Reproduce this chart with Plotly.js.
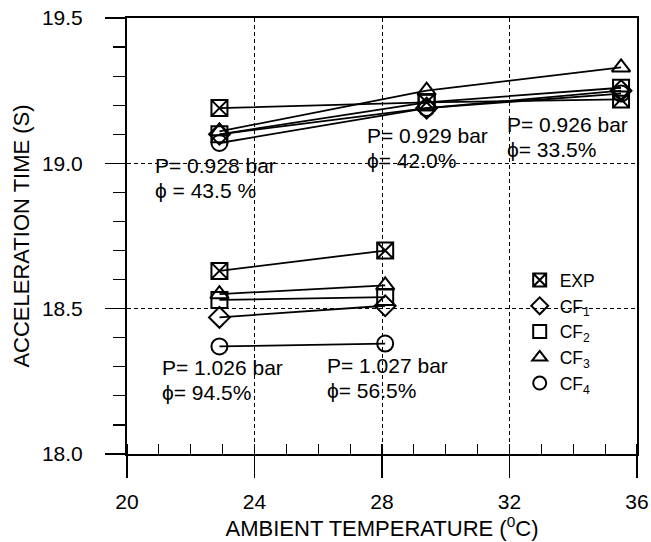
<!DOCTYPE html>
<html>
<head>
<meta charset="utf-8">
<script src="https://cdn.plot.ly/plotly-3.0.1.min.js"></script>
<style>html,body{margin:0;padding:0;background:#fff}#chart{width:651px;height:542px}</style>
</head>
<body>
<div id="chart"></div>
<script>
// Ambient temperature (°C) for the two groups of tests
const tempLow = [22.9, 29.4, 35.5];   // reduced-pressure group (P ~ 0.93 bar)
const tempHigh = [22.9, 28.1];        // sea-level group (P ~ 1.03 bar)

// Acceleration time (s)
const expLow  = [19.19, 19.21, 19.22];
const cf1Low  = [19.10, 19.19, 19.25];
const cf2Low  = [19.10, 19.21, 19.26];
const cf3Low  = [19.11, 19.25, 19.33];
const cf4Low  = [19.07, 19.19, 19.24];

const expHigh = [18.63, 18.70];
const cf1High = [18.47, 18.51];
const cf2High = [18.53, 18.54];
const cf3High = [18.55, 18.58];
const cf4High = [18.37, 18.38];

const seriesNames = ["EXP", "CF<sub>1</sub>", "CF<sub>2</sub>", "CF<sub>3</sub>", "CF<sub>4</sub>"];
const seriesSymbols = ["square-x-open", "diamond-open", "square-open", "triangle-up-open", "circle-open"];
const lowSets = [expLow, cf1Low, cf2Low, cf3Low, cf4Low];
const highSets = [expHigh, cf1High, cf2High, cf3High, cf4High];

// Annotation labels
const labelTexts = ["P= 0.928 bar", "\u03d5 = 43.5 %", "P= 0.929 bar", "\u03d5= 42.0%", "P= 0.926 bar", "\u03d5= 33.5%",
                    "P= 1.026 bar", "\u03d5= 94.5%", "P= 1.027 bar", "\u03d5= 56.5%"];
const labelX = [20.82, 20.82, 27.47, 27.47, 31.86, 31.86, 21.04, 21.04, 26.21, 26.21];
const labelY = [18.994, 18.905, 19.097, 19.011, 19.132, 19.046, 18.298, 18.213, 18.306, 18.220];

const FONT = "Liberation Sans, Arial, sans-serif";
const traces = [];
seriesNames.forEach((name, i) => {
  const xs = tempLow.concat([null], tempHigh);
  const ys = lowSets[i].concat([null], highSets[i]);
  traces.push({
    x: xs, y: ys, mode: "lines+markers", type: "scatter", showlegend: false,
    connectgaps: false, line: {color: "black", width: 1.8}, hoverinfo: "skip",
    marker: {symbol: seriesSymbols[i], size: 16, color: "black", line: {color: "black", width: 2}}
  });
});
// legend entries (marker only, smaller symbols as in the reference key)
seriesNames.forEach((name, i) => {
  traces.push({
    x: [null], y: [null], mode: "markers", type: "scatter", name: name,
    marker: {symbol: seriesSymbols[i], size: 13, color: "black", line: {color: "black", width: 2}}
  });
});

const annotations = labelTexts.map((t, i) => ({
  x: labelX[i], y: labelY[i], xref: "x", yref: "y", text: t, showarrow: false,
  xanchor: "left", yanchor: "middle", font: {family: FONT, size: 21, color: "black"}
}));

const layout = {
  width: 651, height: 542,
  margin: {l: 127, r: 14, t: 18, b: 88},
  paper_bgcolor: "white", plot_bgcolor: "white",
  font: {family: FONT, size: 21, color: "black"},
  showlegend: true,
  legend: {x: 0.77, y: 0.44, xanchor: "left", yanchor: "top", bgcolor: "rgba(0,0,0,0)",
           borderwidth: 0, itemwidth: 30, itemsizing: "trace", font: {family: FONT, size: 17.5}, tracegroupgap: 0},
  xaxis: {
    range: [20, 36], dtick: 4, tick0: 20, showline: true, linecolor: "black", linewidth: 2, mirror: true,
    ticks: "outside", ticklen: 22, tickwidth: 1.5, tickcolor: "black", ticklabelstandoff: 6,
    tickfont: {family: FONT, size: 21},
    showgrid: true, gridcolor: "black", gridwidth: 1, griddash: "4px,3px", zeroline: false,
    minor: {dtick: 1, ticks: "inside", ticklen: 10, tickwidth: 1.2, tickcolor: "black", showgrid: false},
    title: {text: "AMBIENT TEMPERATURE (<sup>0</sup>C)", standoff: 2, font: {family: FONT, size: 22}}
  },
  yaxis: {
    range: [18.0, 19.5], dtick: 0.5, tick0: 18, tickformat: ".1f", showline: true, linecolor: "black", linewidth: 2, mirror: true,
    ticks: "outside", ticklen: 20, tickwidth: 1.5, tickcolor: "black", ticklabelstandoff: 18,
    tickfont: {family: FONT, size: 21},
    showgrid: true, gridcolor: "black", gridwidth: 1, griddash: "4px,3px", zeroline: false,
    minor: {dtick: 0.1, ticks: "outside", ticklen: 12, tickwidth: 1.2, tickcolor: "black", showgrid: false},
    title: {text: "ACCELERATION TIME (S)", standoff: 6, font: {family: FONT, size: 22}}
  },
  annotations: annotations
};

Plotly.newPlot("chart", traces, layout, {staticPlot: true, displayModeBar: false});
</script>
</body>
</html>
